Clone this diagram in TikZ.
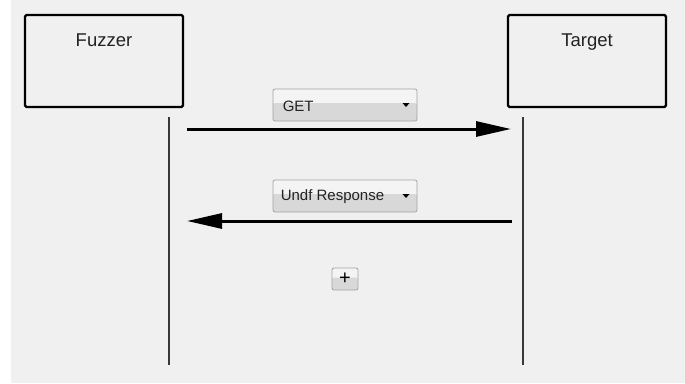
\documentclass[tikz,border=0pt]{standalone}
\usepackage{fontspec}
\setmainfont{Liberation Sans}
\usetikzlibrary{arrows.meta,calc}

\definecolor{canvas}{HTML}{F0F0F0}
\definecolor{lifegray}{HTML}{383838}
\definecolor{combotop}{HTML}{F4F4F4}
\definecolor{combobot}{HTML}{D8D8D8}
\definecolor{comboedge}{HTML}{A3A3A3}
\definecolor{labelgray}{HTML}{222222}

\tikzset{
  actor/.style={draw=black, line width=2.4pt, rounded corners=1.5pt, fill=canvas,
    minimum width=158pt, minimum height=92pt, inner sep=0pt},
  actorname/.style={font=\fontsize{18.5}{18.5}\selectfont, text=labelgray, anchor=base, inner sep=0pt},
  lifeline/.style={draw=lifegray, line width=2pt},
  message/.style={draw=black, line width=3pt, -{Triangle[length=35pt,width=15pt]}},
  twotone/.style={path picture={\fill[combobot]
      ($(path picture bounding box.south west)!0.56!(path picture bounding box.north west)$)
      rectangle (path picture bounding box.south east);}},
  combo/.style={draw=comboedge, line width=0.8pt, rounded corners=2pt, fill=combotop,
    minimum width=144pt, minimum height=32pt, inner sep=0pt, twotone},
  combotext/.style={font=\fontsize{15}{15}\selectfont, text=labelgray, anchor=west, inner sep=0pt},
  dropmark/.style={fill=black, draw=none},
  button/.style={draw=comboedge, line width=0.8pt, rounded corners=2pt, fill=combotop,
    minimum width=26pt, minimum height=22pt, inner sep=0pt, twotone},
}

\begin{document}
\begin{tikzpicture}[x=1pt, y=-1pt]
\useasboundingbox (0,0) rectangle (685,383);
\fill[white] (0,0) rectangle (685,383);
\fill[canvas] (11,0) rectangle (685,383);

% participants
\node[actor] (fuzzer) at (104,61) {};
\node[actor] (target) at (587,61) {};
\node[actorname] (fuzzername) at (104,46.5) {Fuzzer};
\node[actorname] (targetname) at (587,46.5) {Target};

% lifelines
\coordinate (ftop) at (169,117);
\coordinate (fbot) at (169,365);
\coordinate (ttop) at (523,117);
\coordinate (tbot) at (523,365);
\draw[lifeline] (ftop) -- (fbot);
\draw[lifeline] (ttop) -- (tbot);

% messages
\coordinate (reqstart) at (187,129);
\coordinate (reqend) at (511,129);
\coordinate (respstart) at (512,221);
\coordinate (respend) at (187,221);
\draw[message] (reqstart) -- (reqend);
\draw[message] (respstart) -- (respend);

% request selector
\node[combo] (reqbox) at (345,105) {};
\node[combotext] (reqtext) at ([xshift=10pt,yshift=-1pt]reqbox.west) {GET};
\fill[dropmark] (402.5,103) -- (409.5,103) -- (406,107) -- cycle;

% response selector
\node[combo] (respbox) at (345,196) {};
\node[combotext] (resptext) at ([xshift=8pt,yshift=-1pt]respbox.west) {Undf Response};
\fill[dropmark] (402.5,194) -- (409.5,194) -- (406,198) -- cycle;

% add button
\node[button] (addbtn) at (345,279) {};
\node[font=\fontsize{20}{20}\selectfont, inner sep=0pt] (addsign) at (addbtn.center) {+};
\end{tikzpicture}
\end{document}
